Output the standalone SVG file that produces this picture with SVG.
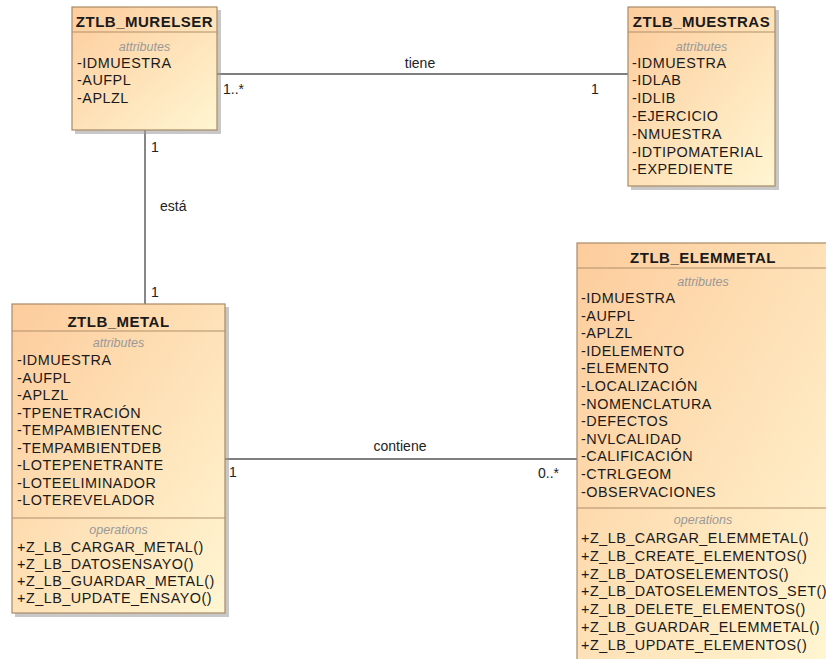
<svg xmlns="http://www.w3.org/2000/svg" width="826" height="659" viewBox="0 0 826 659">
  <defs>
    <linearGradient id="boxFill" x1="0" y1="0" x2="1" y2="1">
      <stop offset="0" stop-color="#fdcc9c"/>
      <stop offset="1" stop-color="#fff6d2"/>
    </linearGradient>
    <style>
      .shadow { fill: #9a9a9a; opacity: 0.55; }
      .box { fill: url(#boxFill); stroke: #a98a66; stroke-width: 1.2; }
      .sep { stroke: #b08f6a; stroke-width: 1; }
      .title { font-family: "Liberation Sans", Arial, sans-serif; font-size: 15px; font-weight: bold; fill: #1a1a1a; text-anchor: middle; letter-spacing: 0.5px; }
      .sect { font-family: "Liberation Sans", Arial, sans-serif; font-size: 12.5px; font-style: italic; fill: #999999; text-anchor: middle; }
      .item { font-family: "Liberation Sans", Arial, sans-serif; font-size: 14.4px; fill: #1a1a1a; letter-spacing: 0.5px; }
      .edge { stroke: #555555; stroke-width: 1.4; fill: none; }
      .lbl { font-family: "Liberation Sans", Arial, sans-serif; font-size: 14px; fill: #222222; }
      .mid { text-anchor: middle; }
    </style>
  </defs>

  <rect width="826" height="659" fill="#ffffff"/>

  <!-- associations -->
  <g id="connectors">
    <line class="edge" x1="217" y1="74" x2="628" y2="74"/>
    <text class="lbl mid" x="420" y="68">tiene</text>
    <text class="lbl" x="223" y="94">1..*</text>
    <text class="lbl" x="591" y="94">1</text>

    <line class="edge" x1="145" y1="130" x2="145" y2="304"/>
    <text class="lbl" x="151" y="152">1</text>
    <text class="lbl" x="160" y="211">está</text>
    <text class="lbl" x="151" y="297">1</text>

    <line class="edge" x1="225" y1="459" x2="577" y2="459"/>
    <text class="lbl mid" x="400" y="451">contiene</text>
    <text class="lbl" x="229" y="477">1</text>
    <text class="lbl" x="538" y="478">0..*</text>
  </g>

  <!-- ZTLB_MURELSER -->
  <g id="ztlb_murelser">
    <rect class="shadow" x="75" y="10" width="146" height="124"/>
    <rect class="box" x="72" y="7" width="145" height="123"/>
    <line class="sep" x1="72" y1="32" x2="217" y2="32"/>
    <text class="title" x="144.5" y="26.5">ZTLB_MURELSER</text>
    <text class="sect" x="144.5" y="51">attributes</text>
    <text class="item" x="77" y="67.5">-IDMUESTRA</text>
    <text class="item" x="77" y="85.3">-AUFPL</text>
    <text class="item" x="77" y="103.1">-APLZL</text>
  </g>

  <!-- ZTLB_MUESTRAS -->
  <g id="ztlb_muestras">
    <rect class="shadow" x="631" y="10" width="148" height="180"/>
    <rect class="box" x="628" y="7" width="147" height="179"/>
    <line class="sep" x1="628" y1="32" x2="775" y2="32"/>
    <text class="title" x="701.5" y="26.5">ZTLB_MUESTRAS</text>
    <text class="sect" x="701.5" y="51">attributes</text>
    <text class="item" x="632" y="67.5">-IDMUESTRA</text>
    <text class="item" x="632" y="85.3">-IDLAB</text>
    <text class="item" x="632" y="103.1">-IDLIB</text>
    <text class="item" x="632" y="120.9">-EJERCICIO</text>
    <text class="item" x="632" y="138.7">-NMUESTRA</text>
    <text class="item" x="632" y="156.5">-IDTIPOMATERIAL</text>
    <text class="item" x="632" y="174.3">-EXPEDIENTE</text>
  </g>

  <!-- ZTLB_METAL -->
  <g id="ztlb_metal">
    <rect class="shadow" x="15" y="307" width="214" height="310"/>
    <rect class="box" x="12" y="304" width="213" height="309"/>
    <line class="sep" x1="12" y1="331" x2="225" y2="331"/>
    <line class="sep" x1="12" y1="518" x2="225" y2="518"/>
    <text class="title" x="118.5" y="326.5">ZTLB_METAL</text>
    <text class="sect" x="118.5" y="347">attributes</text>
    <text class="item" x="17" y="365">-IDMUESTRA</text>
    <text class="item" x="17" y="382.5">-AUFPL</text>
    <text class="item" x="17" y="400">-APLZL</text>
    <text class="item" x="17" y="417.5">-TPENETRACIÓN</text>
    <text class="item" x="17" y="435">-TEMPAMBIENTENC</text>
    <text class="item" x="17" y="452.5">-TEMPAMBIENTDEB</text>
    <text class="item" x="17" y="470">-LOTEPENETRANTE</text>
    <text class="item" x="17" y="487.5">-LOTEELIMINADOR</text>
    <text class="item" x="17" y="505">-LOTEREVELADOR</text>
    <text class="sect" x="118.5" y="534">operations</text>
    <text class="item" x="17" y="552">+Z_LB_CARGAR_METAL()</text>
    <text class="item" x="17" y="569">+Z_LB_DATOSENSAYO()</text>
    <text class="item" x="17" y="586">+Z_LB_GUARDAR_METAL()</text>
    <text class="item" x="17" y="603">+Z_LB_UPDATE_ENSAYO()</text>
  </g>

  <!-- ZTLB_ELEMMETAL -->
  <g id="ztlb_elemmetal">
    <rect class="shadow" x="580" y="246" width="254" height="424"/>
    <rect class="box" x="577" y="243" width="253" height="422"/>
    <line class="sep" x1="577" y1="268" x2="830" y2="268"/>
    <line class="sep" x1="577" y1="508" x2="830" y2="508"/>
    <text class="title" x="703" y="262.5">ZTLB_ELEMMETAL</text>
    <text class="sect" x="703" y="286">attributes</text>
    <text class="item" x="581" y="303">-IDMUESTRA</text>
    <text class="item" x="581" y="320.6">-AUFPL</text>
    <text class="item" x="581" y="338.2">-APLZL</text>
    <text class="item" x="581" y="355.8">-IDELEMENTO</text>
    <text class="item" x="581" y="373.4">-ELEMENTO</text>
    <text class="item" x="581" y="391">-LOCALIZACIÓN</text>
    <text class="item" x="581" y="408.6">-NOMENCLATURA</text>
    <text class="item" x="581" y="426.2">-DEFECTOS</text>
    <text class="item" x="581" y="443.8">-NVLCALIDAD</text>
    <text class="item" x="581" y="461.4">-CALIFICACIÓN</text>
    <text class="item" x="581" y="479">-CTRLGEOM</text>
    <text class="item" x="581" y="496.6">-OBSERVACIONES</text>
    <text class="sect" x="703" y="524">operations</text>
    <text class="item" x="581" y="543">+Z_LB_CARGAR_ELEMMETAL()</text>
    <text class="item" x="581" y="560.8">+Z_LB_CREATE_ELEMENTOS()</text>
    <text class="item" x="581" y="578.6">+Z_LB_DATOSELEMENTOS()</text>
    <text class="item" x="581" y="596.4">+Z_LB_DATOSELEMENTOS_SET()</text>
    <text class="item" x="581" y="614.2">+Z_LB_DELETE_ELEMENTOS()</text>
    <text class="item" x="581" y="632">+Z_LB_GUARDAR_ELEMMETAL()</text>
    <text class="item" x="581" y="649.8">+Z_LB_UPDATE_ELEMENTOS()</text>
  </g>
</svg>
